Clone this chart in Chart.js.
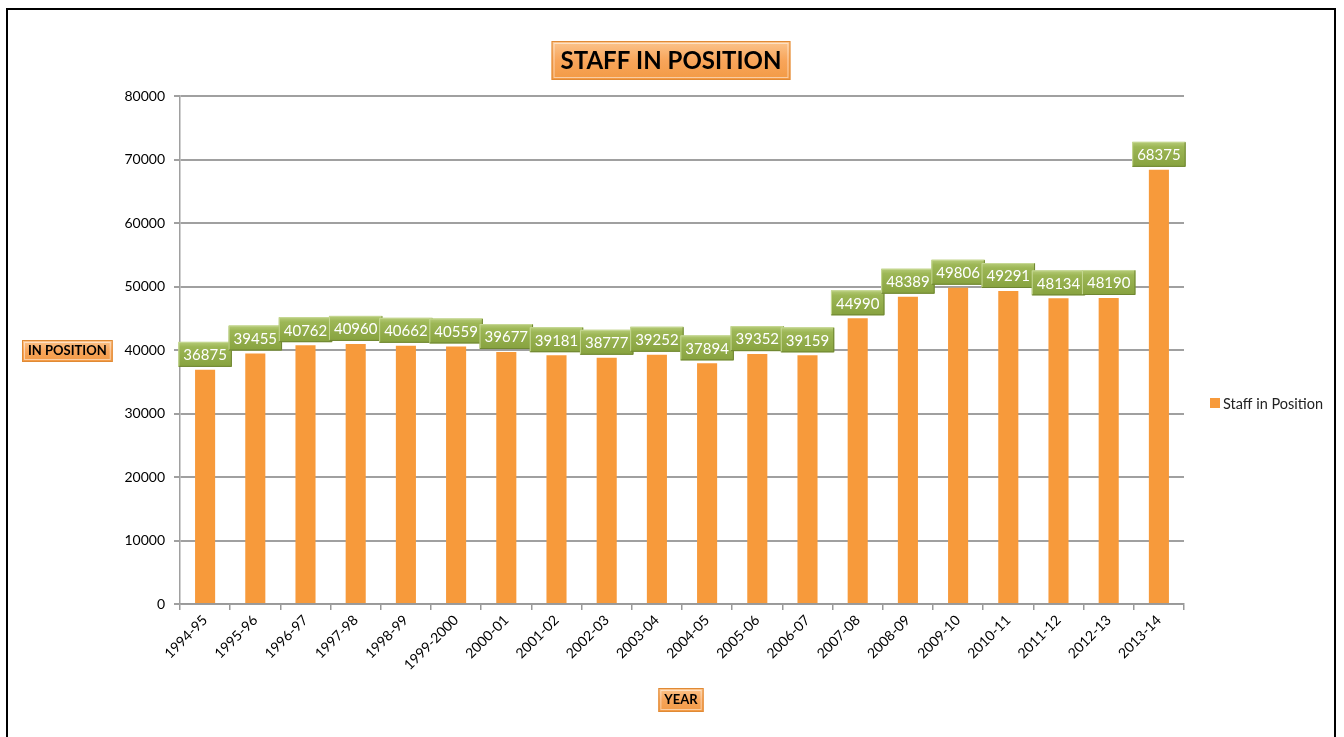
<!DOCTYPE html>
<html>
<head>
<meta charset="utf-8">
<script src="https://cdn.jsdelivr.net/npm/chart.js@4"></script>
<style>
  html, body { margin: 0; padding: 0; background: #fff; overflow: hidden; }
  #wrap { position: absolute; left: 0; top: 0; width: 1344px; height: 737px; }
  #frame { position: absolute; left: 6px; top: 8px; width: 1330px; height: 740px; border: 2px solid #000; box-sizing: border-box; pointer-events: none; }
</style>
</head>
<body>
<div id="wrap">
  <canvas id="chart" width="1344" height="737"></canvas>
  <div id="frame"></div>
</div>
<script>
var years = ['1994-95', '1995-96', '1996-97', '1997-98', '1998-99', '1999-2000', '2000-01', '2001-02', '2002-03', '2003-04',
  '2004-05', '2005-06', '2006-07', '2007-08', '2008-09', '2009-10', '2010-11', '2011-12', '2012-13', '2013-14'];
var staff = [36875, 39455, 40762, 40960, 40662, 40559, 39677, 39181, 38777, 39252,
  37894, 39352, 39159, 44990, 48389, 49806, 49291, 48134, 48190, 68375];
var seriesName = 'Staff in Position';
var chartTitle = 'STAFF IN POSITION';
var yTitle = 'IN POSITION';
var xTitle = 'YEAR';

var fontFamily = 'Lato, "Open Sans", sans-serif';
var barColor = '#F79A3B';

function orangeBox(ctx, x, y, w, h) {
  var g = ctx.createLinearGradient(0, y, 0, y + h);
  g.addColorStop(0, '#FBC58E');
  g.addColorStop(0.5, '#F8A55A');
  g.addColorStop(1, '#F29A45');
  ctx.fillStyle = g;
  ctx.fillRect(x, y, w, h);
  ctx.strokeStyle = '#E08A35';
  ctx.lineWidth = 1;
  ctx.strokeRect(x + 0.5, y + 0.5, w - 1, h - 1);
  ctx.strokeStyle = 'rgba(255,255,255,0.5)';
  ctx.strokeRect(x + 2.5, y + 2.5, w - 5, h - 5);
}

function greenBox(ctx, x, y, w, h) {
  var g = ctx.createLinearGradient(0, y, 0, y + h);
  g.addColorStop(0, '#B7CC7A');
  g.addColorStop(0.2, '#9DB756');
  g.addColorStop(1, '#87A23F');
  ctx.fillStyle = g;
  ctx.fillRect(x, y, w, h);
  ctx.strokeStyle = '#C6D894';
  ctx.lineWidth = 1;
  ctx.beginPath();
  ctx.moveTo(x + 0.5, y + h - 0.5);
  ctx.lineTo(x + 0.5, y + 0.5);
  ctx.lineTo(x + w - 0.5, y + 0.5);
  ctx.stroke();
  ctx.strokeStyle = '#6F8632';
  ctx.beginPath();
  ctx.moveTo(x + w - 0.5, y + 0.5);
  ctx.lineTo(x + w - 0.5, y + h - 0.5);
  ctx.lineTo(x + 0.5, y + h - 0.5);
  ctx.stroke();
}

var extras = {
  id: 'extras',
  afterDatasetsDraw: function(chart) {
    var ctx = chart.ctx;
    var meta = chart.getDatasetMeta(0);
    ctx.save();
    ctx.font = '15px ' + fontFamily;
    ctx.textAlign = 'center';
    ctx.textBaseline = 'middle';
    meta.data.forEach(function(bar, i) {
      var txt = String(staff[i]);
      var w = ctx.measureText(txt).width + 10;
      var h = 25;
      var bx = bar.x - w / 2;
      var by = bar.y - 3 - h;
      greenBox(ctx, bx, by, w, h);
      ctx.fillStyle = '#fff';
      ctx.fillText(txt, bar.x, by + h / 2 + 1);
    });
    ctx.restore();
  },
  afterDraw: function(chart) {
    var ctx = chart.ctx;
    ctx.save();
    ctx.textAlign = 'center';
    ctx.textBaseline = 'middle';
    // chart title
    ctx.font = 'bold 24px ' + fontFamily;
    var tw = ctx.measureText(chartTitle).width + 18;
    var tcx = 671;
    orangeBox(ctx, tcx - tw / 2, 41, tw, 39);
    ctx.fillStyle = '#000';
    ctx.fillText(chartTitle, tcx, 61);
    // y axis title
    ctx.font = 'bold 13px ' + fontFamily;
    var yw = ctx.measureText(yTitle).width + 12;
    orangeBox(ctx, 22, 340, yw, 22);
    ctx.fillStyle = '#000';
    ctx.fillText(yTitle, 22 + yw / 2, 351);
    // x axis title
    var xw = ctx.measureText(xTitle).width + 12;
    orangeBox(ctx, 681 - xw / 2, 688, xw, 24);
    ctx.fillStyle = '#000';
    ctx.fillText(xTitle, 681, 700);
    // legend
    ctx.fillStyle = barColor;
    ctx.fillRect(1210, 398, 10, 10);
    ctx.fillStyle = '#222';
    ctx.textAlign = 'left';
    ctx.font = '14.5px ' + fontFamily;
    ctx.fillText(seriesName, 1223, 404);
    ctx.restore();
  }
};

var chart = new Chart(document.getElementById('chart'), {
  type: 'bar',
  data: {
    labels: years,
    datasets: [{
      label: seriesName,
      data: staff,
      backgroundColor: barColor,
      borderWidth: 0,
      barPercentage: 0.8,
      categoryPercentage: 0.5
    }]
  },
  options: {
    responsive: false,
    animation: false,
    layout: { padding: { left: 0, top: 96, right: 160, bottom: 10 } },
    plugins: {
      legend: { display: false },
      tooltip: { enabled: false },
      title: { display: false }
    },
    scales: {
      x: {
        grid: { offset: true, drawOnChartArea: false, color: '#999', tickLength: 6, lineWidth: 1.5 },
        border: { color: '#999', width: 1.5 },
        ticks: {
          color: '#000',
          font: { family: fontFamily, size: 14 },
          minRotation: 45,
          maxRotation: 45,
          padding: 2
        },
        afterFit: function(scale) { scale.height = 123; }
      },
      y: {
        min: 0,
        max: 80000,
        ticks: {
          stepSize: 10000,
          color: '#000',
          font: { family: fontFamily, size: 14 },
          padding: 9,
          callback: function(v) { return String(v); }
        },
        grid: { color: '#A0A0A0', lineWidth: 2, tickLength: 6 },
        border: { color: '#A0A0A0', width: 1.5 },
        afterFit: function(scale) { scale.width = 180; }
      }
    }
  },
  plugins: [extras]
});
</script>
</body>
</html>
